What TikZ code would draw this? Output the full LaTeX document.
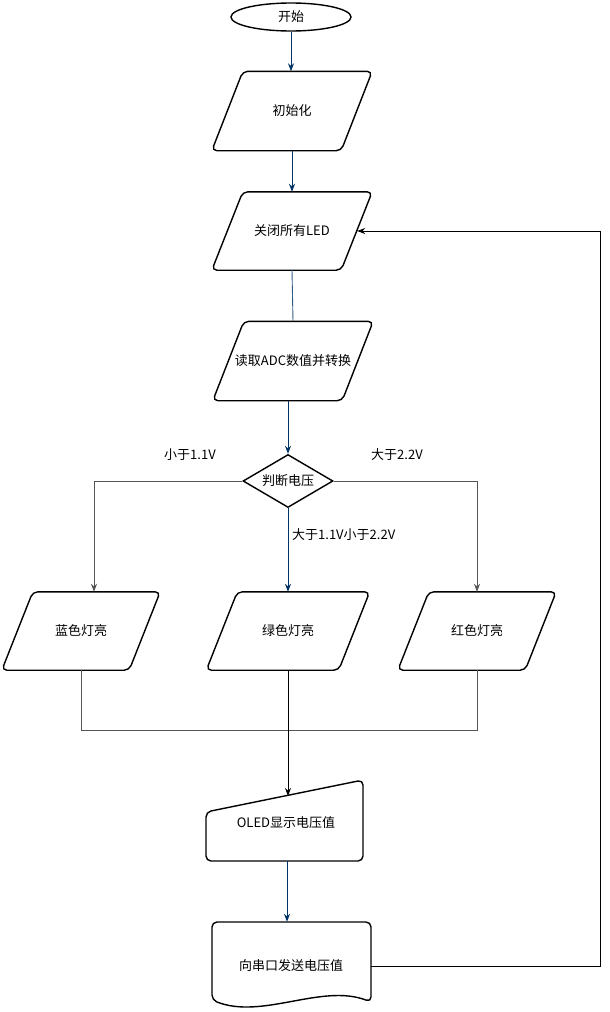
\documentclass[tikz,border=0pt]{standalone}
\usepackage{fontspec}
\setmainfont{Noto Sans CJK SC}
\usetikzlibrary{shapes.geometric,arrows.meta,calc}
\definecolor{navy}{RGB}{0,51,102}
\definecolor{wire}{RGB}{85,85,85}
\begin{document}
\begin{tikzpicture}[x=1pt,y=-1pt,font=\fontsize{13}{15}\selectfont,
    box/.style={minimum width=160pt, minimum height=79pt, inner sep=0pt},
    outline/.style={draw, line width=1.4pt, rounded corners=5pt},
    term/.style={ellipse, outline, minimum width=120pt, minimum height=28pt, inner sep=0pt},
    dec/.style={diamond, outline, rounded corners=0pt, aspect=1.7, minimum width=90pt, minimum height=53pt, inner sep=0pt},
    flow/.style={-{Stealth[length=8pt,width=6pt]}, line width=0.9pt, navy},
    plain/.style={-{Stealth[length=8pt,width=6pt]}, line width=0.9pt, black}]
  \useasboundingbox (0,0) rectangle (610,1012);
  % main column
  \node[term] (start) at (291,17) {开始};
  \node[box] (init) at (292,111) {初始化};
  \node[box, minimum height=78pt] (led) at (292,231) {关闭所有LED};
  \node[box] (read) at (293,361) {读取ADC数值并转换};
  \node[dec] (dia) at (288,481) {判断电压};
  % three lamps
  \node[box, minimum width=158pt, minimum height=78pt] (blue) at (81,631) {蓝色灯亮};
  \node[box, minimum width=163pt, minimum height=78pt] (green) at (288,631) {绿色灯亮};
  \node[box, minimum width=158pt, minimum height=78pt] (red) at (477,631) {红色灯亮};
  \foreach \n in {init, led, read, blue, green, red}
    \draw[outline] (\n.north) -- (\n.north east) -- ($(\n.south east)+(-31,0)$)
      -- (\n.south west) -- ($(\n.north west)+(31,0)$) -- cycle;
  % manual input and document
  \draw[outline] (285,861) -- (206,861) -- (206,812) -- (363,780) -- (363,861) -- cycle;
  \node (oled) at (286,823) {OLED显示电压值};
  \coordinate (oledin) at (288,796);
  \coordinate (oledout) at (287,861);
  \draw[outline] (291,922) -- (371,922) -- (371,1002)
    .. controls (322,983) and (262,1020) .. (212,1000) -- (212,922) -- cycle;
  \node[minimum width=159pt, minimum height=88pt] (doc) at (291,966) {向串口发送电压值};
  % labels
  \node (lo) at (190,455) {小于1.1V};
  \node (hi) at (397,455) {大于2.2V};
  \node[right, inner sep=0pt] (mid) at (292,535) {大于1.1V小于2.2V};
  % connectors
  \draw[flow] (start.south) -- (start.south |- init.north);
  \draw[flow] (init.south) -- (led.north);
  \draw[navy!80, line width=0.9pt] (led.south) -- (read.north);
  \draw[flow] (read.south -| dia.north) -- (dia.north);
  \draw[plain, wire] (dia.west) -| ([xshift=13pt]blue.north);
  \draw[plain, wire] (dia.east) -| (red.north);
  \draw[flow] (dia.south) -- (green.north);
  \draw[wire, line width=0.9pt] (blue.south) -- ++(0,60) -| (red.south);
  \draw[plain] (green.south) -- (oledin);
  \draw[flow] (oledout) -- (oledout |- doc.north);
  \draw[plain] (doc.east) -- ++(230,0) |- ([xshift=-15pt]led.east);
\end{tikzpicture}
\end{document}
